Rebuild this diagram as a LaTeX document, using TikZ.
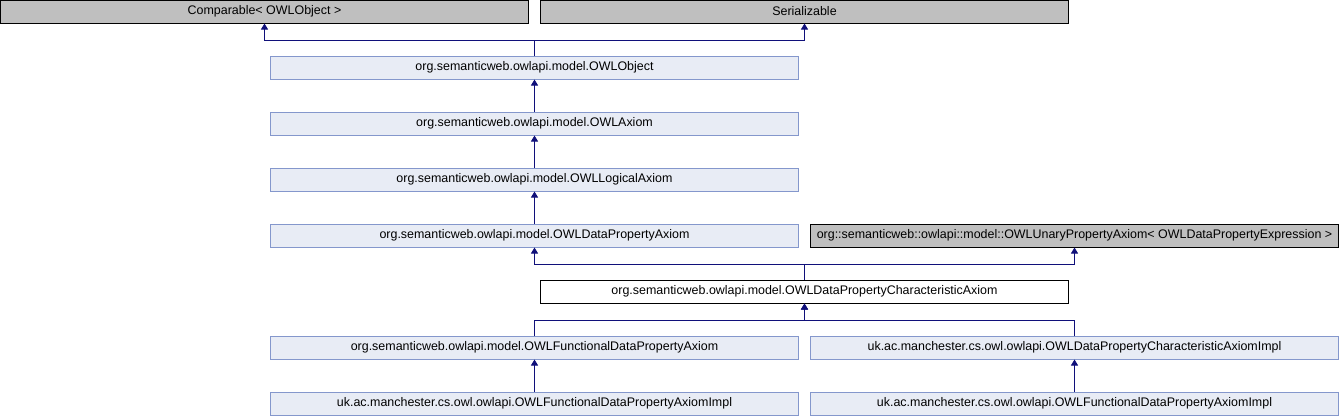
\documentclass[tikz,border=0pt]{standalone}
\usepackage{fontspec}
\setmainfont{Liberation Sans}
\usetikzlibrary{arrows.meta}
\definecolor{boxfill}{HTML}{E8ECF5}
\definecolor{boxline}{HTML}{8497CC}
\definecolor{grayfill}{HTML}{BFBFBF}
\definecolor{edgecol}{HTML}{10107A}
\tikzset{
  cls/.style={draw=boxline, fill=boxfill, line width=1pt, minimum width=528pt, minimum height=23pt, inner sep=0pt, font=\fontsize{12.45}{14}\selectfont},
  ext/.style={draw=black, fill=grayfill, line width=1pt, minimum width=528pt, minimum height=23pt, inner sep=0pt, font=\fontsize{12.45}{14}\selectfont},
  cur/.style={draw=black, fill=white, line width=1pt, minimum width=528pt, minimum height=23pt, inner sep=0pt, font=\fontsize{12.45}{14}\selectfont},
  edge/.style={draw=edgecol, line width=1pt, -{Triangle[length=6pt,width=7pt]}}
}
\begin{document}
\begin{tikzpicture}[x=1pt,y=-1pt]
\useasboundingbox (0,0) rectangle (1340,416);
\node[ext] (comp) at (264.5,11.5) {Comparable< OWLObject >};
\node[ext] (ser) at (804.5,11.5) {Serializable};
\node[cls] (obj) at (534.5,67.5) {org.semanticweb.owlapi.model.OWLObject};
\node[cls] (ax) at (534.5,123.5) {org.semanticweb.owlapi.model.OWLAxiom};
\node[cls] (log) at (534.5,179.5) {org.semanticweb.owlapi.model.OWLLogicalAxiom};
\node[cls] (dpa) at (534.5,235.5) {org.semanticweb.owlapi.model.OWLDataPropertyAxiom};
\node[ext] (una) at (1074.5,235.5) {org::semanticweb::owlapi::model::OWLUnaryPropertyAxiom< OWLDataPropertyExpression >};
\node[cur] (dpca) at (804.5,291.5) {org.semanticweb.owlapi.model.OWLDataPropertyCharacteristicAxiom};
\node[cls] (fdpa) at (534.5,347.5) {org.semanticweb.owlapi.model.OWLFunctionalDataPropertyAxiom};
\node[cls] (dpcai) at (1074.5,347.5) {uk.ac.manchester.cs.owl.owlapi.OWLDataPropertyCharacteristicAxiomImpl};
\node[cls] (fdpai1) at (534.5,403.5) {uk.ac.manchester.cs.owl.owlapi.OWLFunctionalDataPropertyAxiomImpl};
\node[cls] (fdpai2) at (1074.5,403.5) {uk.ac.manchester.cs.owl.owlapi.OWLFunctionalDataPropertyAxiomImpl};
\draw[edge] (obj.north) -- ++(0,-15) -| (comp.south);
\draw[edge] (obj.north) -- ++(0,-15) -| (ser.south);
\draw[edge] (ax.north) -- (obj.south);
\draw[edge] (log.north) -- (ax.south);
\draw[edge] (dpa.north) -- (log.south);
\draw[edge] (dpca.north) -- ++(0,-15) -| (dpa.south);
\draw[edge] (dpca.north) -- ++(0,-15) -| (una.south);
\draw[edge] (fdpa.north) -- ++(0,-15) -| (dpca.south);
\draw[edge] (dpcai.north) -- ++(0,-15) -| (dpca.south);
\draw[edge] (fdpai1.north) -- (fdpa.south);
\draw[edge] (fdpai2.north) -- (dpcai.south);
\end{tikzpicture}
\end{document}
